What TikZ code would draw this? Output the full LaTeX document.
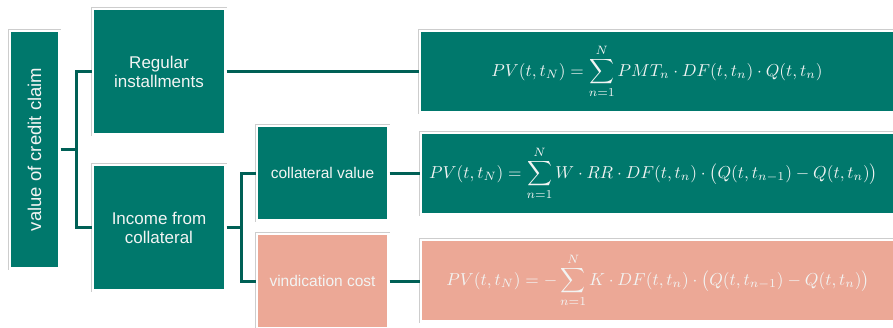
\documentclass[tikz,border=0pt]{standalone}
\usepackage{fontspec}
\setmainfont{Liberation Sans}
\usepackage{amsmath}
\definecolor{tealbox}{RGB}{0,120,108}
\definecolor{salmon}{RGB}{236,168,150}
\definecolor{linecol}{RGB}{0,96,86}
\definecolor{framegray}{RGB}{205,205,205}
\definecolor{txt}{RGB}{242,244,243}
\tikzset{
  boxbase/.style={rectangle, draw=white, line width=2.5pt, text=txt, align=center,
    inner sep=0pt, preaction={draw=framegray, line width=3.5pt}},
  tealnode/.style={boxbase, fill=tealbox},
  salmonnode/.style={boxbase, fill=salmon},
  biglabel/.style={font=\fontsize{17}{19}\selectfont},
  vertlabel/.style={font=\fontsize{18.5}{20}\selectfont},
  smalllabel/.style={font=\fontsize{15.5}{18}\selectfont},
  conn/.style={draw=linecol, line width=3pt},
  fml/.style={text=txt}
}
\newcommand{\fscale}[1]{\scalebox{1.73}{$\displaystyle #1$}}
\begin{document}
\begin{tikzpicture}[x=1pt,y=-1pt]
\useasboundingbox (0,0) rectangle (893,327);
\clip (0,0) rectangle (893,327);
% boxes
\node[tealnode, minimum width=49.5pt, minimum height=237.5pt] (val) at (34.5,149.5) {};
\node[vertlabel, text=txt, rotate=90] (valtxt) at (34.5,149.5) {value of credit claim};
\node[tealnode, biglabel, minimum width=132.5pt, minimum height=125.5pt] (reg) at (159,71.5) {Regular\\installments};
\node[tealnode, biglabel, minimum width=132.5pt, minimum height=125.5pt] (inc) at (159,227.5) {Income from\\collateral};
\node[tealnode, smalllabel, minimum width=131.5pt, minimum height=94.5pt] (coll) at (322.5,173) {collateral value};
\node[salmonnode, smalllabel, minimum width=131.5pt, minimum height=94.5pt] (vind) at (322.5,281) {vindication cost};
\node[tealnode, minimum width=475.5pt, minimum height=81.5pt] (f1) at (657.5,71.5) {};
\node[tealnode, minimum width=474.5pt, minimum height=81.5pt] (f2) at (658,173.5) {};
\node[salmonnode, minimum width=474.5pt, minimum height=81.5pt] (f3) at (658,280.5) {};
% connectors
\draw[conn] (val.east) -- ++(16,0) coordinate (j1);
\draw[conn] (j1) |- (reg.west);
\draw[conn] (j1) |- (inc.west);
\draw[conn] (inc.east) -- ++(15,0) coordinate (j2);
\draw[conn] (j2) |- (coll.west);
\draw[conn] (j2) |- (vind.west);
\draw[conn] (reg.east) -- (reg.east -| f1.west);
\draw[conn] (coll.east) -- (coll.east -| f2.west);
\draw[conn] (vind.east) -- (vind.east -| f3.west);
% formulas
\node[fml] (t1) at (657,71.5) {\fscale{PV(t,t_N)=\sum_{n=1}^{N} PMT_n\cdot DF(t,t_n)\cdot Q(t,t_n)}};
\node[fml] (t2) at (653.5,173.5) {\fscale{PV(t,t_N)=\sum_{n=1}^{N} W\cdot RR\cdot DF(t,t_n)\cdot\bigl(Q(t,t_{n-1})-Q(t,t_n)\bigr)}};
\node[fml] (t3) at (658,280.5) {\fscale{PV(t,t_N)=-\sum_{n=1}^{N} K\cdot DF(t,t_n)\cdot\bigl(Q(t,t_{n-1})-Q(t,t_n)\bigr)}};
\end{tikzpicture}
\end{document}
